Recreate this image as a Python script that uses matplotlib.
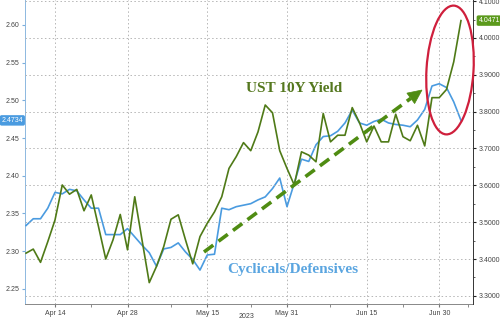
import numpy as np
import matplotlib
matplotlib.use("Agg")
import matplotlib.pyplot as plt
from matplotlib.patches import Ellipse, Polygon
from matplotlib.lines import Line2D
from matplotlib.ticker import FixedLocator, FormatStrFormatter

# ---- data (trading days, Apr 10 2023 -> Jul 6 2023) ----
ust_10y = [3.416, 3.427, 3.391, 3.447, 3.506, 3.601, 3.576, 3.589, 3.531, 3.574,
           3.488, 3.400, 3.452, 3.521, 3.425, 3.569, 3.452, 3.336, 3.380, 3.434,
           3.508, 3.520, 3.452, 3.387, 3.461, 3.497, 3.528, 3.569, 3.646, 3.678,
           3.716, 3.694, 3.745, 3.818, 3.797, 3.694, 3.646, 3.601, 3.691, 3.682,
           3.664, 3.795, 3.718, 3.736, 3.736, 3.811, 3.770, 3.718, 3.761, 3.718,
           3.718, 3.793, 3.732, 3.721, 3.763, 3.707, 3.838, 3.838, 3.860, 3.935,
           4.0471]
cyc_def = [2.334, 2.343, 2.343, 2.357, 2.378, 2.376, 2.382, 2.380, 2.368, 2.357,
           2.357, 2.322, 2.322, 2.322, 2.330, 2.319, 2.308, 2.298, 2.280, 2.303,
           2.305, 2.311, 2.299, 2.289, 2.275, 2.295, 2.296, 2.357, 2.355, 2.359,
           2.361, 2.363, 2.368, 2.372, 2.383, 2.397, 2.359, 2.390, 2.422, 2.419,
           2.441, 2.452, 2.453, 2.459, 2.470, 2.487, 2.470, 2.467, 2.472, 2.475,
           2.470, 2.468, 2.467, 2.465, 2.474, 2.488, 2.519, 2.522, 2.517, 2.498,
           2.4734]
tick_idx = [4, 14, 25, 36, 47, 57]
tick_labels = ["Apr 14", "Apr 28", "May 15", "May 31", "Jun 15", "Jun 30"]
minor_idx = [9, 20, 31, 42, 52, 61]
left_ticks = [2.25, 2.30, 2.35, 2.40, 2.45, 2.50, 2.55, 2.60]
right_ticks = [3.3, 3.4, 3.5, 3.6, 3.7, 3.8, 3.9, 4.0, 4.1]

GREEN = "#4f7a17"
BLUE = "#4a9be0"
TXT = "#444444"
FONT = "Liberation Sans"

W, H = 500, 324
fig = plt.figure(figsize=(W / 100, H / 100), dpi=100)
fig.patch.set_facecolor("white")

ax = fig.add_axes([25 / W, 1 - 304 / H, (473 - 25) / W, 304 / H])
ax2 = ax.twinx()

x = np.arange(len(ust_10y))
ax.plot(x, cyc_def, color=BLUE, lw=1.2, zorder=3)
ax2.plot(x, ust_10y, color=GREEN, lw=1.2, zorder=3)

ax.set_xlim(-0.14, 61.66)
ax.set_ylim(2.230, 2.633)
ax2.set_ylim(3.278, 4.103)

# x axis
ax.set_xticks(tick_idx)
ax.set_xticklabels(tick_labels, fontsize=5, color=TXT, family=FONT)
ax.xaxis.set_minor_locator(FixedLocator(minor_idx))
ax.tick_params(axis="x", which="major", length=2.5, pad=2, color="#777777")
ax.tick_params(axis="x", which="minor", length=2, color="#777777")

# left axis
ax.set_yticks(left_ticks)
ax.yaxis.set_major_formatter(FormatStrFormatter("%.2f"))
ax.tick_params(axis="y", length=2.5, pad=1.5, color="#7aaedc", labelsize=5, labelcolor=TXT)
for lab in ax.get_yticklabels():
    lab.set_family(FONT)

# right axis
ax2.set_yticks(right_ticks)
ax2.yaxis.set_major_formatter(FormatStrFormatter("%.4f"))
ax2.yaxis.set_minor_locator(FixedLocator(np.arange(3.25, 4.11, 0.05)))
ax2.tick_params(axis="y", which="major", length=2.5, pad=1.5, color="#222222", labelsize=5, labelcolor=TXT)
ax2.tick_params(axis="y", which="minor", length=1.5, color="#444444")
for lab in ax2.get_yticklabels():
    lab.set_family(FONT)

# grid
for yv in right_ticks:
    ax2.axhline(yv, color="#b5b5b5", lw=0.7, ls=(0, (1.5, 2.5)), zorder=0)
for xv in tick_idx:
    ax.axvline(xv, color="#b5b5b5", lw=0.7, ls=(0, (1.5, 2.5)), zorder=0)

# spines
for a in (ax, ax2):
    a.spines["top"].set_visible(False)
ax.spines["left"].set_color("#8db8e0")
ax.spines["bottom"].set_color("#888888")
ax2.spines["left"].set_visible(False)
ax2.spines["bottom"].set_visible(False)
ax2.spines["right"].set_color("#333333")
ax.spines["right"].set_visible(False)
for a in (ax, ax2):
    for s in a.spines.values():
        s.set_linewidth(0.7)

# last value boxes
ax.text(-0.004, cyc_def[-1], f"{cyc_def[-1]:.4f}", transform=ax.get_yaxis_transform(),
        ha="right", va="center", fontsize=5, color="white", family=FONT,
        bbox=dict(boxstyle="round,pad=0.25", fc=BLUE, ec="none"), zorder=10, clip_on=False)
ax2.text(1.012, ust_10y[-1], f"{ust_10y[-1]:.4f}", transform=ax2.get_yaxis_transform(),
         ha="left", va="center", fontsize=5, color="white", family=FONT,
         bbox=dict(boxstyle="round,pad=0.25", fc="#5b9a1c", ec="none"), zorder=10, clip_on=False)

# annotations (pixel positions)
def fx(px):
    return px / W

def fy(py):
    return 1 - py / H

fig.text(fx(247), fy(317), "2023", ha="center", va="center", fontsize=5,
         color=TXT, family=FONT)

fig.text(fx(294), fy(88), "UST 10Y Yield", ha="center", va="center", fontsize=11,
         fontweight="bold", family="Liberation Serif", color="#55781f")
fig.text(fx(293), fy(269), "Cyclicals/Defensives", ha="center", va="center", fontsize=11,
         fontweight="bold", family="Liberation Serif", color="#5aa5e0")

# dashed arrow
x0, y0 = 204, 252
x1, y1 = 422, 90
dx, dy = x1 - x0, y1 - y0
L = np.hypot(dx, dy)
ux, uy = dx / L, dy / L
hl, hw = 14, 6.5
bx, by = x1 - ux * hl, y1 - uy * hl
ARROW = "#4f8c12"
fig.add_artist(Line2D([fx(x0), fx(bx)], [fy(y0), fy(by)], transform=fig.transFigure,
                      color=ARROW, lw=2.6, ls=(0, (3.2, 1.8)), solid_capstyle="butt",
                      dash_capstyle="butt"))
px_, py_ = -uy, ux
head = [(fx(x1), fy(y1)),
        (fx(bx + px_ * hw), fy(by + py_ * hw)),
        (fx(bx - px_ * hw), fy(by - py_ * hw))]
fig.add_artist(Polygon(head, closed=True, transform=fig.transFigure, fc=ARROW, ec=ARROW, lw=0.5))

# red ellipse (display inches)
ell = Ellipse((450 / 100, (H - 70) / 100), 47 / 100, 129 / 100, angle=-3.5,
              transform=fig.dpi_scale_trans, fill=False, ec="#cf1f3c", lw=1.6)
fig.add_artist(ell)

fig.savefig("out.png", dpi=100)
